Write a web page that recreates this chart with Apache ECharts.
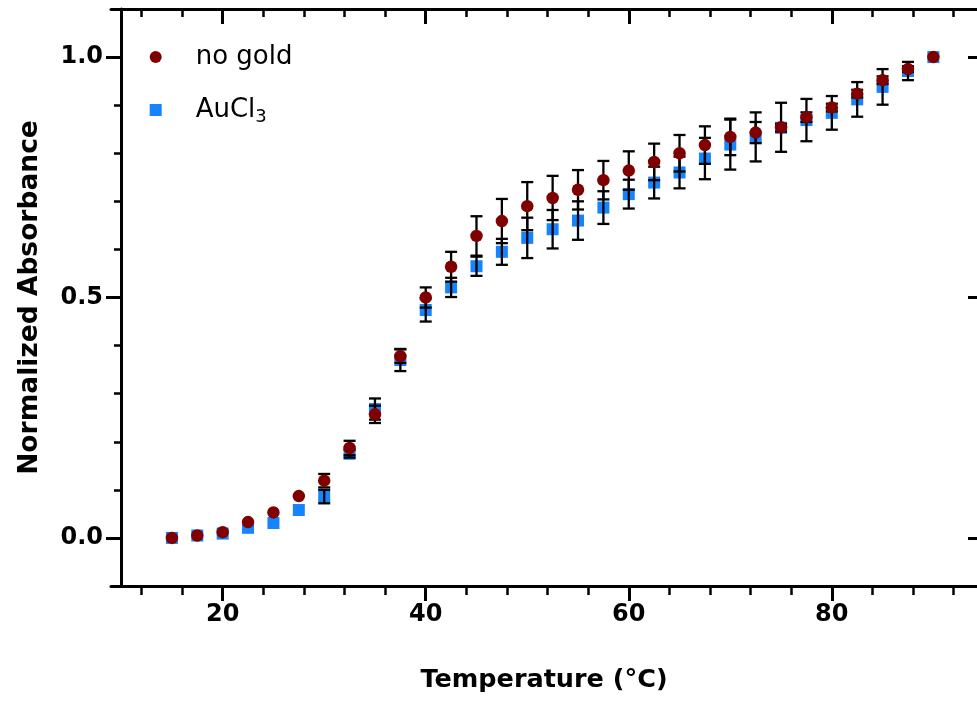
<!DOCTYPE html>
<html>
<head>
<meta charset="utf-8">
<script src="https://cdn.jsdelivr.net/npm/echarts@6/dist/echarts.min.js"></script>
<style>html,body{margin:0;padding:0;background:#fff}#c{width:977px;height:702px}</style>
</head>
<body>
<div id="c"></div>
<script>
const temps = [15, 17.5, 20, 22.5, 25, 27.5, 30, 32.5, 35, 37.5, 40, 42.5, 45, 47.5, 50, 52.5, 55, 57.5, 60, 62.5, 65, 67.5, 70, 72.5, 75, 77.5, 80, 82.5, 85, 87.5, 90];
const noGold = [0.000, 0.005, 0.012, 0.033, 0.053, 0.087, 0.119, 0.187, 0.257, 0.378, 0.500, 0.564, 0.628, 0.659, 0.690, 0.707, 0.724, 0.744, 0.764, 0.782, 0.800, 0.817, 0.834, 0.843, 0.854, 0.875, 0.895, 0.924, 0.952, 0.975, 1.000];
const noGoldErr = [0, 0, 0, 0, 0, 0, 0.014, 0.015, 0.018, 0.014, 0.021, 0.031, 0.041, 0.046, 0.050, 0.046, 0.041, 0.040, 0.040, 0.038, 0.038, 0.039, 0.038, 0.022, 0.051, 0.010, 0.008, 0.008, 0.008, 0.006, 0];
const aucl3 = [0.000, 0.005, 0.009, 0.021, 0.031, 0.058, 0.086, 0.175, 0.268, 0.370, 0.474, 0.521, 0.565, 0.595, 0.624, 0.642, 0.660, 0.687, 0.715, 0.739, 0.760, 0.789, 0.818, 0.834, 0.853, 0.869, 0.884, 0.912, 0.938, 0.971, 1.000];
const aucl3Err = [0, 0, 0, 0, 0, 0, 0.014, 0.008, 0.022, 0.023, 0.024, 0.020, 0.020, 0.027, 0.042, 0.040, 0.040, 0.034, 0.030, 0.033, 0.033, 0.043, 0.052, 0.051, 0.008, 0.044, 0.035, 0.036, 0.037, 0.019, 0];
const xMinorTicks = [12, 16, 24, 28, 32, 36, 44, 48, 52, 56, 64, 68, 72, 76, 84, 88, 92];
const xMajorTicks = [20, 40, 60, 80];
const yMinorTicks = [0.1, 0.2, 0.3, 0.4, 0.6, 0.7, 0.8, 0.9];
const yMajorTicks = [0.0, 0.5, 1.0];
const seriesNames = ['no gold', 'AuCl3'];

const FONT = 'DejaVu Sans';
const chart = echarts.init(document.getElementById('c'), null, {renderer: 'canvas'});

function errRender(params, api) {
  const x = api.value(0), y = api.value(1), e = api.value(2);
  if (!e) return null;
  const hi = api.coord([x, y + e]);
  const lo = api.coord([x, y - e]);
  const hw = 6;
  const st = {stroke: '#000', lineWidth: 2.3, fill: null};
  return {type: 'group', children: [
    {type: 'line', shape: {x1: hi[0], y1: hi[1], x2: lo[0], y2: lo[1]}, style: st},
    {type: 'line', shape: {x1: hi[0] - hw, y1: hi[1], x2: hi[0] + hw, y2: hi[1]}, style: st},
    {type: 'line', shape: {x1: lo[0] - hw, y1: lo[1], x2: lo[0] + hw, y2: lo[1]}, style: st}
  ]};
}

const XMIN = 9, XMAX = 94.3, YMIN = -0.1, YMAX = 1.1;
const baseX = {type: 'value', min: XMIN, max: XMAX, splitLine: {show: false}};
const baseY = {type: 'value', min: YMIN, max: YMAX, splitLine: {show: false}};
const blackLine = {show: true, onZero: false, lineStyle: {color: '#000', width: 3}};
const noLine = {show: false, onZero: false};

chart.setOption({
  animation: false,
  backgroundColor: '#fff',
  grid: {left: 111, right: -3, top: 9, bottom: 116, containLabel: false},
  legend: {
    data: seriesNames,
    orient: 'vertical',
    left: 144.7,
    top: 37,
    itemWidth: 12,
    itemHeight: 12,
    itemGap: 23,
    formatter: function (n) { return n === 'AuCl3' ? '{g|}AuCl{sub|3}' : '{g|}' + n; },
    textStyle: {
      fontFamily: FONT, fontSize: 26, color: '#000', lineHeight: 30,
      rich: {
        g: {width: 29},
        sub: {fontFamily: FONT, fontSize: 18, color: '#000', padding: [14, 0, 0, 0]}
      }
    }
  },
  xAxis: [
    Object.assign({}, baseX, {
      position: 'bottom',
      axisLine: blackLine,
      axisTick: {show: true, customValues: xMinorTicks, length: 9, lineStyle: {color: '#000', width: 2.5}},
      axisLabel: {show: true, customValues: xMajorTicks, margin: 17, fontFamily: FONT, fontWeight: 'bold', fontSize: 24, color: '#000'},
      name: 'Temperature (°C)', nameLocation: 'middle', nameGap: 81,
      nameTextStyle: {fontFamily: FONT, fontWeight: 'bold', fontSize: 25.5, color: '#000'}
    }),
    Object.assign({}, baseX, {
      position: 'bottom',
      axisLine: noLine,
      axisTick: {show: true, customValues: xMajorTicks, length: 15, lineStyle: {color: '#000', width: 3}},
      axisLabel: {show: false}
    }),
    Object.assign({}, baseX, {
      position: 'top',
      axisLine: blackLine,
      axisTick: {show: true, inside: true, customValues: xMinorTicks, length: 8, lineStyle: {color: '#000', width: 2.5}},
      axisLabel: {show: false}
    }),
    Object.assign({}, baseX, {
      position: 'top',
      axisLine: noLine,
      axisTick: {show: true, inside: true, customValues: xMajorTicks, length: 15, lineStyle: {color: '#000', width: 3}},
      axisLabel: {show: false}
    })
  ],
  yAxis: [
    Object.assign({}, baseY, {
      position: 'left', offset: -10,
      axisLine: blackLine,
      axisTick: {show: true, customValues: yMinorTicks, length: 7, lineStyle: {color: '#000', width: 2.5}},
      axisLabel: {show: true, customValues: yMajorTicks, margin: 18, fontFamily: FONT, fontWeight: 'bold', fontSize: 24, color: '#000',
        formatter: function (v) { return Number(v).toFixed(1); }},
      name: 'Normalized Absorbance', nameLocation: 'middle', nameGap: 77,
      nameTextStyle: {fontFamily: FONT, fontWeight: 'bold', fontSize: 26.5, color: '#000'}
    }),
    Object.assign({}, baseY, {
      position: 'left', offset: -10,
      axisLine: noLine,
      axisTick: {show: true, customValues: yMajorTicks, length: 15, lineStyle: {color: '#000', width: 3}},
      axisLabel: {show: false}
    }),
    Object.assign({}, baseY, {
      position: 'right',
      axisLine: noLine,
      axisTick: {show: true, inside: true, customValues: yMajorTicks, length: 9, lineStyle: {color: '#000', width: 3}},
      axisLabel: {show: false}
    })
  ],
  series: [
    {
      name: 'AuCl3', type: 'scatter', symbol: 'rect', symbolSize: 12, z: 2,
      itemStyle: {color: '#1684FF', opacity: 1},
      data: temps.map((t, i) => [t, aucl3[i]])
    },
    {
      type: 'custom', z: 3, renderItem: errRender, encode: {x: 0, y: 1}, silent: true,
      data: temps.map((t, i) => [t, aucl3[i], aucl3Err[i]])
    },
    {
      type: 'custom', z: 3, renderItem: errRender, encode: {x: 0, y: 1}, silent: true,
      data: temps.map((t, i) => [t, noGold[i], noGoldErr[i]])
    },
    {
      name: 'no gold', type: 'scatter', symbol: 'circle', symbolSize: 12.5, z: 4,
      itemStyle: {color: '#800000', opacity: 1},
      data: temps.map((t, i) => [t, noGold[i]])
    }
  ]
});
</script>
</body>
</html>
